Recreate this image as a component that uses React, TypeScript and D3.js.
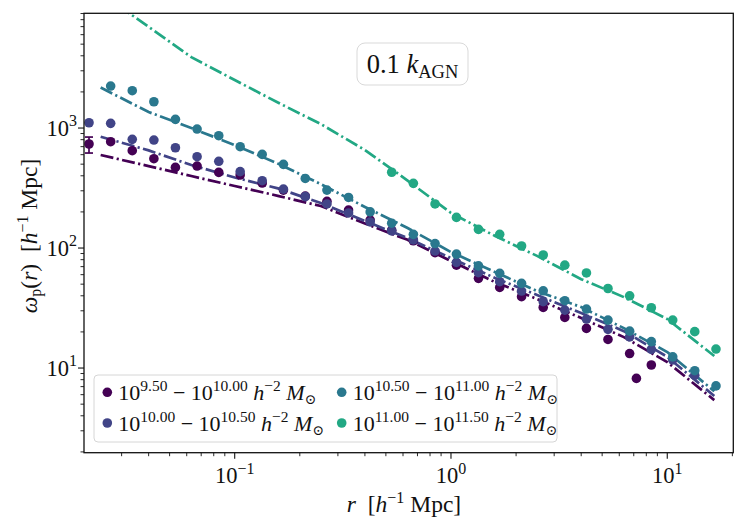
import React from 'react';
import * as d3 from 'd3';

// canvas + axes box (pixels)
const W = 747;
const H = 525;
const plot = { left: 84, right: 733.3, top: 13.3, bottom: 452.7 };

// radial bins used by the measured points [h^-1 Mpc]
const rBins = [
  0.0212, 0.0267, 0.0336, 0.0423, 0.0532, 0.067, 0.0844, 0.106, 0.134, 0.168,
  0.212, 0.267, 0.336, 0.423, 0.532, 0.67, 0.844, 1.06, 1.34, 1.68,
  2.12, 2.67, 3.36, 4.23, 5.32, 6.7, 8.44, 10.6, 13.4, 16.8,
];

// measured wp(r), one array per stellar mass bin
const lowR = [
  0.0212, 0.0267, 0.0336, 0.0423, 0.0532, 0.067, 0.0844, 0.106, 0.134, 0.168,
  0.212, 0.267, 0.336, 0.423, 0.532, 0.67, 0.844, 1.06, 1.34, 1.68,
  2.12, 2.67, 3.36, 4.23, 5.32, 6.7, 7.2, 8.44,
];
const lowW = [
  736, 769, 647, 555, 470, 482, 427, 406, 348, 304,
  271, 245, 207, 171, 141, 115, 91.4, 72, 55.9, 47,
  39.3, 32, 26.4, 21.4, 17.3, 13.2, 8.2, 10.6,
];
const midLowW = [
  1107, 1094, 805, 794, 685, 577, 528, 433, 364, 310,
  268, 233, 196, 165, 139, 117, 94.4, 76, 62.3, 52.4,
  43.8, 35.7, 30.4, 25.6, 21, 18.2, 14.3, 11.7, 8.7,
];
const midHighW = [
  2239, 2048, 1656, 1182, 981, 863, 699, 603, 498, 380,
  304, 264, 200, 161, 130, 109, 89, 71, 61.5, 50.8,
  44, 36.4, 31, 25.1, 20.3, 16.6, 12.4, 9.5, 7.1,
];
const highW = [428, 346, 233, 180, 143, 130, 104, 87.5, 72, 62, 46, 40, 31.8, 25.1, 20.1, 14.4];

// error bar on the first low-mass point
const errR = [0.0212];
const errLo = [619];
const errHi = [841];

// model curves (dash-dot)
const modelR = [0.024, 0.04, 0.063, 0.1, 0.16, 0.25, 0.4, 0.63, 1, 1.6, 2.5, 4, 6.3, 10, 16.5];
const modelLow = [596, 482, 398, 329, 271, 224, 160, 117, 78, 52, 37.6, 26.1, 18.1, 11.2, 5.4];
const modelMidLow = [847, 651, 492, 387, 313, 237, 168, 121, 82.5, 56.2, 40.6, 28.7, 20.3, 12.4, 5.84];
const modelMidHigh = [2175, 1360, 1000, 722, 501, 341, 220, 147, 92.6, 63, 43.8, 32.2, 21.5, 13.6, 6.4];
const modelHigh = [13300, 6970, 3900, 2512, 1616, 1080, 656, 365, 196, 126, 86, 55, 39, 25.6, 12.6];

const colors = ['#440154', '#414487', '#2a788e', '#22a884'];
const massLo = ['9.50', '10.00', '10.50', '11.00'];
const massHi = ['10.00', '10.50', '11.00', '11.50'];

const series = [
  { r: lowR, w: lowW, model: modelLow },
  { r: rBins.slice(0, 29), w: midLowW, model: modelMidLow },
  { r: rBins.slice(1), w: midHighW, model: modelMidHigh },
  { r: rBins.slice(14), w: highW, model: modelHigh },
];

const FONT = "'Liberation Serif', 'DejaVu Serif', serif";

const App: React.FC = () => {
  const x = d3.scaleLog().domain([0.0201, 20.2]).range([plot.left, plot.right]);
  const y = d3.scaleLog().domain([1.97, 9040]).range([plot.bottom, plot.top]);

  const line = d3
    .line<[number, number]>()
    .x(d => x(d[0]))
    .y(d => y(d[1]));

  const isMajor = (v: number) => Math.abs(Math.log10(v) - Math.round(Math.log10(v))) < 1e-6;
  const xTicks = x.ticks();
  const yTicks = y.ticks();

  const tickFs = 22.5;
  const supFs = 16;

  return (
    <svg
      width={W}
      height={H}
      style={{ position: 'absolute', left: 0, top: 0, background: '#fff' }}
      fontFamily={FONT}
    >
      <defs>
        <clipPath id="plotclip">
          <rect x={plot.left} y={plot.top} width={plot.right - plot.left} height={plot.bottom - plot.top} />
        </clipPath>
      </defs>

      {/* model curves */}
      <g clipPath="url(#plotclip)">
        {series.map((s, i) => (
          <path
            key={'m' + i}
            d={line(modelR.map((r, j) => [r, s.model[j]] as [number, number])) || ''}
            fill="none"
            stroke={colors[i]}
            strokeWidth={2.7}
            strokeDasharray="13 3.4 2.2 3.4"
          />
        ))}
      </g>

      {/* error bar */}
      {errR.map((r, i) => (
        <g key={'e' + i} stroke={colors[0]} strokeWidth={1.7}>
          <line x1={x(r)} x2={x(r)} y1={y(errLo[i])} y2={y(errHi[i])} />
          <line x1={x(r) - 4} x2={x(r) + 4} y1={y(errLo[i])} y2={y(errLo[i])} />
          <line x1={x(r) - 4} x2={x(r) + 4} y1={y(errHi[i])} y2={y(errHi[i])} />
        </g>
      ))}

      {/* measured points */}
      <g clipPath="url(#plotclip)">
        {series.map((s, i) =>
          s.w.map((v, j) => (
            <circle key={'p' + i + '-' + j} cx={x(s.r[j])} cy={y(v)} r={4.8} fill={colors[i]} />
          ))
        )}
      </g>

      {/* frame */}
      <rect
        x={plot.left}
        y={plot.top}
        width={plot.right - plot.left}
        height={plot.bottom - plot.top}
        fill="none"
        stroke="#111"
        strokeWidth={1.3}
      />

      {/* x ticks */}
      {xTicks.map((t, i) => {
        const major = isMajor(t);
        return (
          <line
            key={'xt' + i}
            x1={x(t)}
            x2={x(t)}
            y1={plot.bottom}
            y2={plot.bottom + (major ? 6 : 3.5)}
            stroke="#111"
            strokeWidth={major ? 1.1 : 0.9}
          />
        );
      })}
      {xTicks.filter(isMajor).map((t, i) => (
        <text key={'xl' + i} x={x(t)} y={483} textAnchor="middle" fontSize={tickFs} fill="#111">
          10
          <tspan dy={-9.5} fontSize={supFs}>
            {Math.round(Math.log10(t)) < 0 ? '−' + Math.abs(Math.round(Math.log10(t))) : Math.round(Math.log10(t))}
          </tspan>
        </text>
      ))}

      {/* y ticks */}
      {yTicks.map((t, i) => {
        const major = isMajor(t);
        return (
          <line
            key={'yt' + i}
            x1={plot.left - (major ? 6 : 3.5)}
            x2={plot.left}
            y1={y(t)}
            y2={y(t)}
            stroke="#111"
            strokeWidth={major ? 1.1 : 0.9}
          />
        );
      })}
      {yTicks.filter(isMajor).map((t, i) => (
        <text key={'yl' + i} x={77} y={y(t) + 7.5} textAnchor="end" fontSize={tickFs} fill="#111">
          10
          <tspan dy={-9.5} fontSize={supFs}>
            {Math.round(Math.log10(t))}
          </tspan>
        </text>
      ))}

      {/* axis labels */}
      <text x={404} y={512} textAnchor="middle" fontSize={23.5} fill="#111" style={{ whiteSpace: 'pre' }}>
        <tspan fontStyle="italic">r</tspan>
        <tspan>  [</tspan>
        <tspan fontStyle="italic">h</tspan>
        <tspan dy={-9.5} fontSize={16}>−1</tspan>
        <tspan dy={9.5}> Mpc]</tspan>
      </text>
      <text
        transform="translate(37,236) rotate(-90)"
        textAnchor="middle"
        fontSize={23.5}
        fill="#111"
        style={{ whiteSpace: 'pre' }}
      >
        <tspan fontStyle="italic">ω</tspan>
        <tspan dy={4} fontSize={16}>p</tspan>
        <tspan dy={-4}>(</tspan>
        <tspan fontStyle="italic">r</tspan>
        <tspan>)  [</tspan>
        <tspan fontStyle="italic">h</tspan>
        <tspan dy={-9.5} fontSize={16}>−1</tspan>
        <tspan dy={9.5}> Mpc]</tspan>
      </text>

      {/* annotation box */}
      <rect x={357} y={43} width={111} height={42} rx={8} fill="#fff" stroke="#d9d9d9" strokeWidth={1} />
      <text x={412.5} y={73} textAnchor="middle" fontSize={26.5} fill="#111" style={{ whiteSpace: 'pre' }}>
        <tspan>0.1 </tspan>
        <tspan fontStyle="italic">k</tspan>
        <tspan dy={5} fontSize={18.5}>AGN</tspan>
      </text>

      {/* legend */}
      <rect x={94} y={375} width={463} height={67} rx={4} fill="#fff" fillOpacity={0.85} stroke="#d6d6d6" strokeWidth={1} />
      {series.map((_, i) => {
        const col = Math.floor(i / 2);
        const row = i % 2;
        const mx = col === 0 ? 107.3 : 341.7;
        const my = row === 0 ? 392.3 : 423;
        return (
          <g key={'lg' + i}>
            <circle cx={mx} cy={my} r={4.8} fill={colors[i]} />
            <text x={mx + 11} y={my + 7.5} fontSize={22} fill="#111" style={{ whiteSpace: 'pre' }}>
              <tspan>10</tspan>
              <tspan dy={-8.5} fontSize={15.5}>{massLo[i]}</tspan>
              <tspan dy={8.5}> − 10</tspan>
              <tspan dy={-8.5} fontSize={15.5}>{massHi[i]}</tspan>
              <tspan dy={8.5} fontStyle="italic"> h</tspan>
              <tspan dy={-8.5} fontSize={15.5}>−2</tspan>
              <tspan dy={8.5} fontStyle="italic"> M</tspan>
              <tspan dy={4} fontSize={14}>⊙</tspan>
            </text>
          </g>
        );
      })}
    </svg>
  );
};

export default App;
